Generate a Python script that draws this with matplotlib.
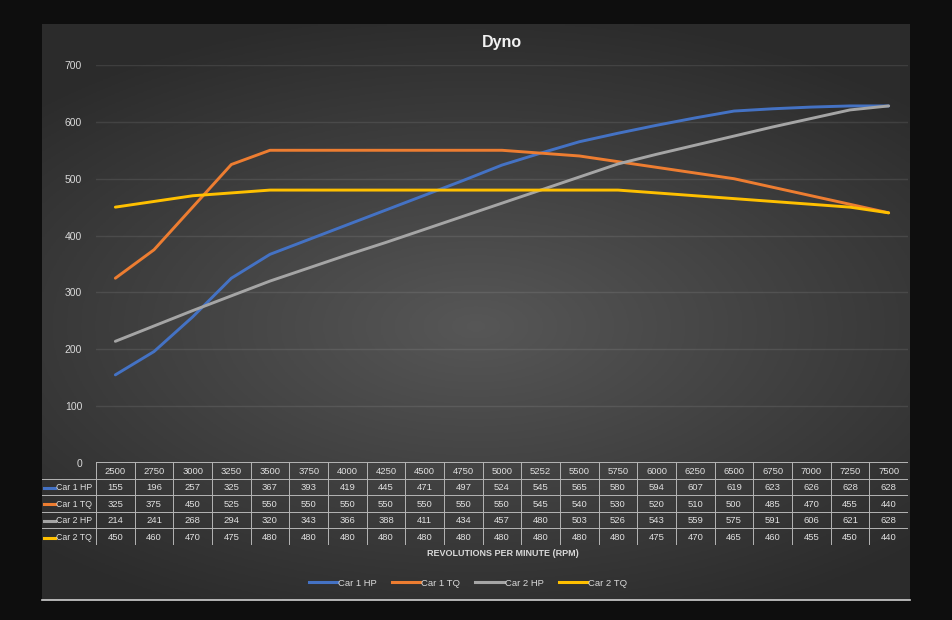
import numpy as np
from matplotlib import pyplot as plt
from matplotlib.lines import Line2D

rpm = ["2500", "2750", "3000", "3250", "3500", "3750", "4000", "4250", "4500", "4750",
       "5000", "5252", "5500", "5750", "6000", "6250", "6500", "6750", "7000", "7250", "7500"]
car1_hp = [155, 196, 257, 325, 367, 393, 419, 445, 471, 497, 524, 545, 565, 580, 594, 607, 619, 623, 626, 628, 628]
car1_tq = [325, 375, 450, 525, 550, 550, 550, 550, 550, 550, 550, 545, 540, 530, 520, 510, 500, 485, 470, 455, 440]
car2_hp = [214, 241, 268, 294, 320, 343, 366, 388, 411, 434, 457, 480, 503, 526, 543, 559, 575, 591, 606, 621, 628]
car2_tq = [450, 460, 470, 475, 480, 480, 480, 480, 480, 480, 480, 480, 480, 480, 475, 470, 465, 460, 455, 450, 440]

names = ["Car 1 HP", "Car 1 TQ", "Car 2 HP", "Car 2 TQ"]
series = [car1_hp, car1_tq, car2_hp, car2_tq]
colors = ["#4472C4", "#ED7D31", "#A5A5A5", "#FFC000"]

plt.rcParams["font.family"] = ["Liberation Sans", "DejaVu Sans"]

W, H = 952, 620
fig = plt.figure(figsize=(W / 100, H / 100), dpi=100, facecolor="#0e0e0e")


def rect(x0, y0, x1, y1):
    # pixel box (top-left origin) -> figure fraction
    return [x0 / W, 1 - y1 / H, (x1 - x0) / W, (y1 - y0) / H]


# chart background with soft radial gradient
bg = fig.add_axes(rect(42, 24, 910, 600))
yy, xx = np.mgrid[-1:1:200j, -1:1:300j]
r = np.sqrt((xx * 0.85) ** 2 + ((yy - 0.05) * 1.1) ** 2)
shade = np.clip(0.34 - 0.14 * r, 0.17, 0.34)
bg.imshow(np.dstack([shade] * 3), aspect="auto", extent=[0, 1, 0, 1])
bg.set_axis_off()
fig.add_artist(Line2D([42 / W, 910 / W], [1 - 600 / H] * 2, color="#d0d0d0", lw=1.2))

# main plot
ax = fig.add_axes(rect(96, 65, 908, 463))
ax.patch.set_alpha(0)
x = np.arange(len(rpm))
for vals, c in zip(series, colors):
    ax.plot(x, vals, color=c, lw=2.1, solid_capstyle="round", zorder=3)
ax.set_xlim(-0.5, len(rpm) - 0.5)
ax.set_ylim(0, 700)
ax.set_yticks(range(0, 701, 100))
ax.set_xticks([])
ax.grid(axis="y", color="#ffffff", alpha=0.09, lw=1.0)
ax.tick_params(axis="y", length=0, pad=10, labelsize=7.5, labelcolor="#d9d9d9")
for s in ax.spines.values():
    s.set_visible(False)
ax.set_title("Dyno", color="#f2f2f2", fontsize=11.5, fontweight="bold", pad=13)

# data table under the axis
lab_w = 54 / (812 / len(rpm))
tab = fig.add_axes(rect(42, 462, 908, 545))
tab.set_axis_off()
tab.patch.set_alpha(0)
tab.set_xlim(-0.5 - lab_w, len(rpm) - 0.5)
tab.set_ylim(5, 0)
lc = "#b5b5b5"
tab.plot([-0.5, len(rpm) - 0.5], [0, 0], color=lc, lw=0.7)
for r_ in range(1, 6):
    tab.plot([-0.5 - lab_w, len(rpm) - 0.5], [r_, r_], color=lc, lw=0.7)
for c_ in range(len(rpm) + 1):
    tab.plot([c_ - 0.5, c_ - 0.5], [0, 5], color=lc, lw=0.7)
fs = 6.8
for i, lab in enumerate(rpm):
    tab.text(i, 0.55, lab, ha="center", va="center", fontsize=fs, color="#e0e0e0")
for j, (name, vals, c) in enumerate(zip(names, series, colors)):
    yrow = j + 1.55
    tab.plot([-0.5 - lab_w + 0.05, -0.5 - lab_w + 0.34], [yrow, yrow], color=c, lw=2.2)
    tab.text(-0.5 - lab_w + 0.36, yrow, name, ha="left", va="center", fontsize=6.3, color="#e0e0e0")
    for i, v in enumerate(vals):
        tab.text(i, yrow, str(v), ha="center", va="center", fontsize=fs, color="#e0e0e0")

fig.text(503 / W, 1 - 553 / H, "REVOLUTIONS PER MINUTE (RPM)", ha="center", va="center",
         fontsize=6.5, fontweight="bold", color="#d9d9d9")

handles = [Line2D([], [], color=c, lw=2.2) for c in colors]
fig.legend(handles, names, loc="center", bbox_to_anchor=(468 / W, 1 - 583 / H), ncol=4,
           frameon=False, fontsize=fs, labelcolor="#d9d9d9", handlelength=3.0,
           handletextpad=0.1, columnspacing=1.6)

fig.savefig("out.png", dpi=100, facecolor=fig.get_facecolor())
